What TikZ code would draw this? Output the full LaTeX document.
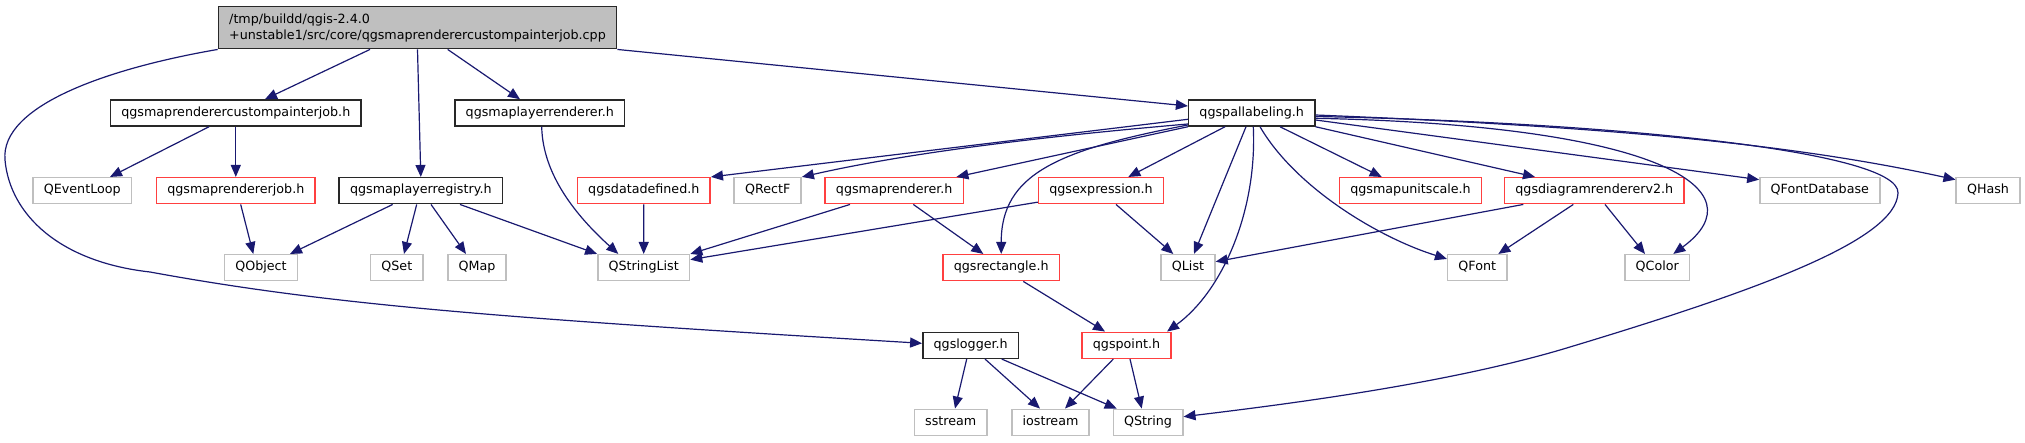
\documentclass[tikz,border=0pt]{standalone}
\usepackage{fontspec}
\setmainfont{DejaVu Sans}
\usetikzlibrary{positioning, arrows.meta}

\definecolor{edgeblue}{RGB}{25,25,112}
\definecolor{partred}{RGB}{255,64,64}
\definecolor{extgrey}{RGB}{191,191,191}
\definecolor{hdrgrey}{RGB}{40,40,40}

\begin{document}
\begin{tikzpicture}[
    x=1pt, y=-1pt, on grid, >={Triangle[length=12pt,width=10pt]},
    dep/.style={->, draw=edgeblue, line width=1.2pt},
    header/.style={draw=hdrgrey, line width=1.5pt, minimum height=26pt, inner xsep=10.8pt,
        text height=9.6pt, text depth=3pt, font=\fontsize{12.7}{15.7}\selectfont},
    partial/.style={header, draw=partred},
    external/.style={header, draw=extgrey},
    srcbox/.style={draw=hdrgrey, fill=extgrey, line width=1.5pt, align=left, minimum height=42pt,
        inner xsep=10.8pt, font=\fontsize{12.7}{15.7}\selectfont}
]
    \useasboundingbox (0,0) rectangle (2025,443);

    % files
    \node[srcbox] (src) at (417.5,27.7) {/tmp/buildd/qgis-2.4.0\\+unstable1/src/core/qgsmaprenderercustompainterjob.cpp};

    \node[header] (cpjob) at (235.8,113) {qgsmaprenderercustompainterjob.h};
    \node[header] (lrend) [right=304pt of cpjob] {qgsmaplayerrenderer.h};
    \node[header] (pal) [right=711.9pt of lrend] {qgspallabeling.h};

    \node[external] (evloop) at (82.3,190.7) {QEventLoop};
    \node[partial] (rjob) [right=153.5pt of evloop] {qgsmaprendererjob.h};
    \node[header] (reg) [right=185pt of rjob] {qgsmaplayerregistry.h};
    \node[partial] (ddef) [right=223pt of reg] {qgsdatadefined.h};
    \node[external] (rectf) [right=123.9pt of ddef] {QRectF};
    \node[partial] (mrend) [right=126.5pt of rectf] {qgsmaprenderer.h};
    \node[partial] (expr) [right=206.8pt of mrend] {qgsexpression.h};
    \node[partial] (unit) [right=309.5pt of expr] {qgsmapunitscale.h};
    \node[partial] (diag) [right=183.8pt of unit] {qgsdiagramrendererv2.h};
    \node[external] (fdb) [right=225.5pt of diag] {QFontDatabase};
    \node[external] (hash) [right=168.2pt of fdb] {QHash};

    \node[external] (qobj) at (261,267.7) {QObject};
    \node[external] (qset) [right=135.8pt of qobj] {QSet};
    \node[external] (qmap) [right=80.2pt of qset] {QMap};
    \node[external] (slist) [right=166.7pt of qmap] {QStringList};
    \node[partial] (rect) [right=357.5pt of slist] {qgsrectangle.h};
    \node[external] (qlist) [right=186.8pt of rect] {QList};
    \node[external] (qfont) [right=289.3pt of qlist] {QFont};
    \node[external] (qcolor) [right=180pt of qfont] {QColor};

    \node[header] (logger) at (970.7,345.3) {qgslogger.h};
    \node[partial] (point) [right=155.8pt of logger] {qgspoint.h};

    \node[external] (sstr) at (950.7,422.3) {sstream};
    \node[external] (iostr) [right=99.8pt of sstr] {iostream};
    \node[external] (qstr) [right=97.5pt of iostr] {QString};

    % includes of the source file
    \draw[dep] ([xshift=-47.5pt]src.south) -- ([xshift=29.2pt]cpjob.north);
    \draw[dep] (src.south) -- (reg.north);
    \draw[dep] ([xshift=30.2pt]src.south) -- ([xshift=-19.8pt]lrend.north);
    \draw[dep] (src.south east) -- ([yshift=7pt]pal.west);
    \draw[dep] (src.south west) .. controls (110,68) and (0,105) .. (5,160)
        .. controls (10,215) and (60,262) .. (150,272)
        .. controls (330,305) and (500,318) .. ([yshift=2pt]logger.west);

    \draw[dep] ([xshift=-26.8pt]cpjob.south) -- ([xshift=27.7pt]evloop.north);
    \draw[dep] (cpjob.south) -- (rjob.north);
    \draw[dep] ([xshift=4.9pt]rjob.south) -- ([xshift=-7.7pt]qobj.north);
    \draw[dep] ([xshift=1.9pt]lrend.south) .. controls +(1,48) and +(-42,-38) .. ([xshift=-25.4pt]slist.north);

    \draw[dep] ([xshift=-28.1pt]reg.south) -- ([xshift=29pt]qobj.north);
    \draw[dep] ([xshift=-4.1pt]reg.south) -- ([xshift=7.2pt]qset.north);
    \draw[dep] ([xshift=10.2pt]reg.south) -- ([xshift=-11pt]qmap.north);
    \draw[dep] ([xshift=39.2pt]reg.south) -- (slist.north west);

    \draw[dep] (ddef.south) -- (slist.north);
    \draw[dep] ([xshift=-44.2pt]mrend.south) -- (slist.north east);
    \draw[dep] ([xshift=19.1pt]mrend.south) -- ([xshift=-17.9pt]rect.north);
    \draw[dep] ([yshift=2.3pt]expr.south west) -- ([yshift=-5.7pt]slist.north east);
    \draw[dep] ([xshift=15pt]expr.south) -- ([xshift=-14.7pt]qlist.north);

    % includes of qgspallabeling.h
    \draw[dep] ([yshift=-6.3pt]pal.west) -- (ddef.north east);
    \draw[dep] ([yshift=-11pt]pal.west) .. controls +(-140,12) and +(110,-25) .. (rectf.north east);
    \draw[dep] (pal.south west) -- ([xshift=-7.6pt]mrend.north east);
    \draw[dep] ([yshift=-12pt]pal.west) .. controls +(-130,25) and +(0,-80) .. (rect.north);
    \draw[dep] ([xshift=-26.7pt]pal.south) -- ([xshift=27.3pt]expr.north);
    \draw[dep] ([xshift=-5.7pt]pal.south) -- ([xshift=6pt]qlist.north);
    \draw[dep] ([xshift=1.6pt]pal.south) .. controls +(4,85) and +(55,-40) .. ([xshift=-4.6pt]point.north east);
    \draw[dep] ([xshift=8.3pt]pal.south) .. controls +(35,60) and +(-70,-22) .. ([yshift=-5pt]qfont.north west);
    \draw[dep] ([xshift=28.3pt]pal.south) -- ([xshift=-28.8pt]unit.north);
    \draw[dep] (pal.south east) -- ([xshift=-59.3pt]diag.north);
    \draw[dep] ([yshift=-5.3pt]pal.east) .. controls +(345,7) and +(87,-64) .. ([xshift=16pt]qcolor.north);
    \draw[dep] ([yshift=-7pt]pal.east) -- ([yshift=-2.7pt]fdb.north west);
    \draw[dep] ([yshift=-2pt]pal.east) .. controls +(300,12) and +(-160,-35) .. ([yshift=-2.7pt]hash.north west);
    \draw[dep] ([yshift=-3.5pt]pal.east) .. controls (1600,122) and (1900,150) .. (1898,193)
        .. controls (1896,240) and (1760,290) .. (1560,350)
        .. controls (1440,385) and (1280,405) .. ([yshift=5.6pt]qstr.east);

    \draw[dep] ([xshift=-71pt]diag.south) -- ([yshift=6pt]qlist.east);
    \draw[dep] ([xshift=-21pt]diag.south) -- ([xshift=21pt]qfont.north);
    \draw[dep] ([xshift=10.7pt]diag.south) -- ([xshift=-12.3pt]qcolor.north);

    \draw[dep] ([xshift=22.1pt]rect.south) -- ([xshift=-21.5pt]point.north);

    \draw[dep] ([xshift=-4pt]logger.south) -- ([xshift=4.3pt]sstr.north);
    \draw[dep] ([xshift=14.3pt]logger.south) -- ([xshift=-10.5pt]iostr.north);
    \draw[dep] ([xshift=31pt]logger.south) -- ([xshift=-31.3pt]qstr.north);
    \draw[dep] ([xshift=-13.2pt]point.south) -- ([xshift=14.5pt]iostr.north);
    \draw[dep] ([xshift=3.5pt]point.south) -- ([xshift=-6.3pt]qstr.north);
\end{tikzpicture}
\end{document}
